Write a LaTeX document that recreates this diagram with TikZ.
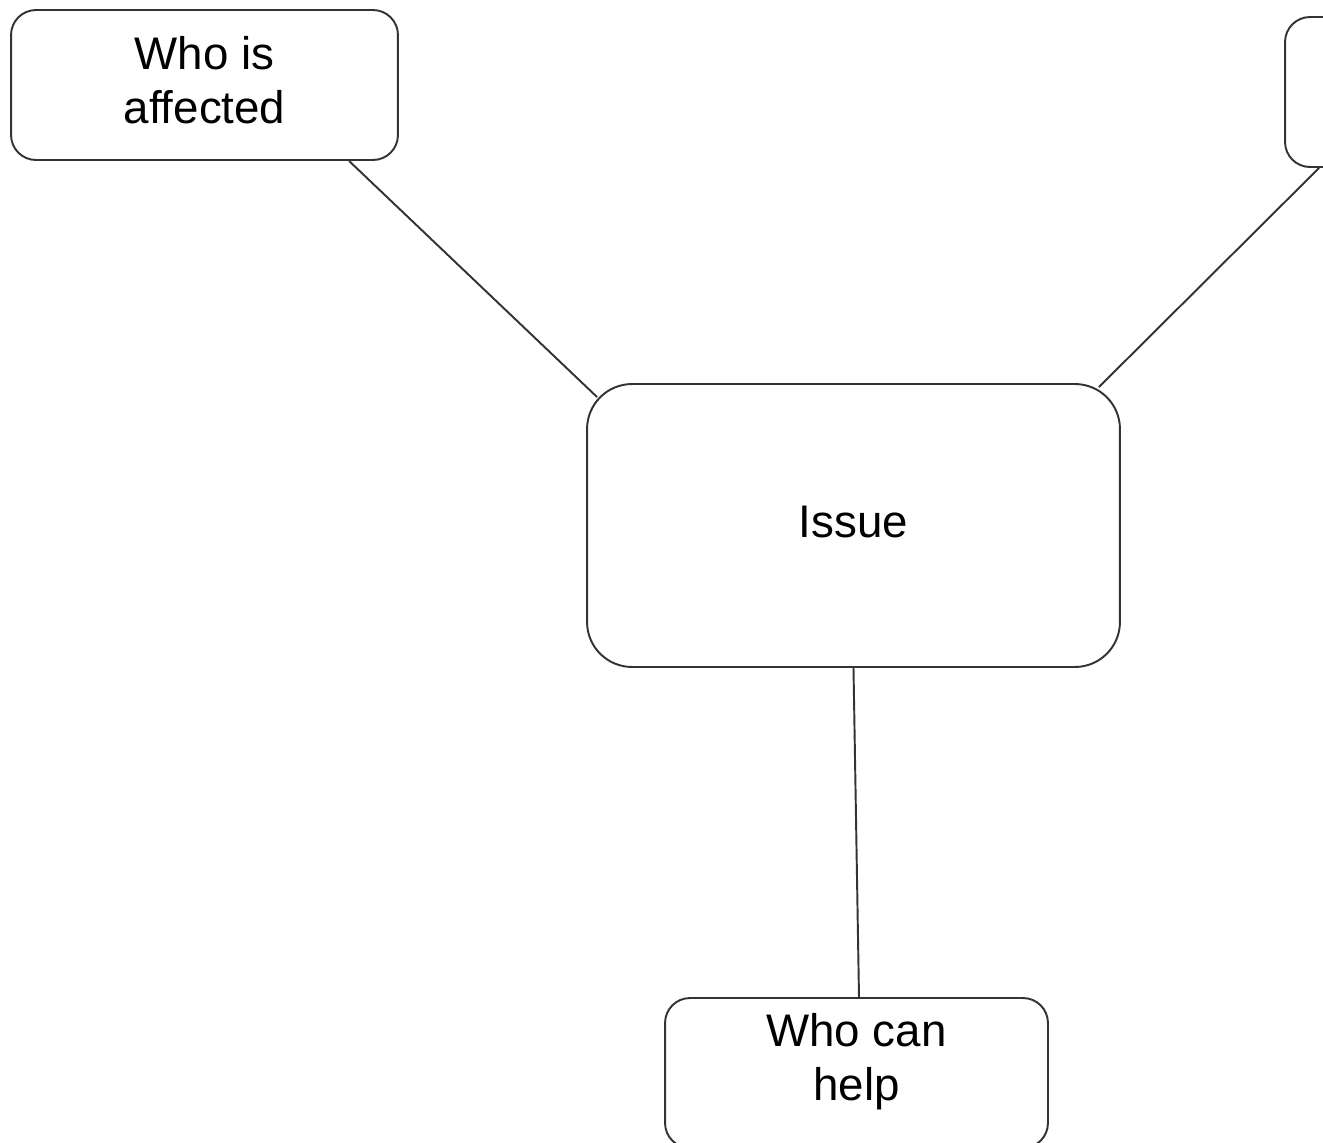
\documentclass[tikz,border=0pt]{standalone}
\usepackage{fontspec}
\setmainfont[Ligatures=NoCommon]{Liberation Sans}
\usetikzlibrary{calc}
\definecolor{ink}{HTML}{333333}
\tikzset{
  box/.style={draw=ink, line width=1.1pt, rounded corners=0.5cm, fill=white,
    minimum width=7.74cm, minimum height=3cm, inner sep=0pt},
  bigbox/.style={box, rounded corners=0.9cm, minimum width=10.66cm, minimum height=5.66cm},
  caption/.style={font=\fontsize{26}{31}\selectfont, align=center, inner sep=0pt, text=black},
  link/.style={draw=ink, line width=1.1pt}
}
\begin{document}
\begin{tikzpicture}[x=0.02cm, y=-0.02cm]
  \useasboundingbox (0,0) rectangle (1323,1143);
  \clip (0,0) rectangle (1323,1143);
  % central topic and the three surrounding boxes
  \node[bigbox] (issue) at (853.5,525.5) {};
  \node[caption] (issuetext) at ($(issue.center)+(0,-3)$) {Issue};
  \node[box] (who) at (204.5,85) {};
  \node[caption] (whotext) at ($(who.center)+(0,-5)$) {Who is\\affected};
  \node[box] (other) at (1478.5,92) {};
  \node[box, minimum width=7.66cm] (help) at (856.5,1073) {};
  \node[caption, anchor=north] (helptext) at ($(help.north)+(0,16)$) {Who can\\help};
  % links from the issue to each box
  \draw[link] ($(who.south west)+(339,0)$) -- ($(issue.north west)+(11,14)$);
  \draw[link] ($(issue.north east)+(-22,4)$) -- ($(other.south west)+(35,0)$);
  \draw[link] (issue.south) -- ($(help.north)+(2.5,0)$);
\end{tikzpicture}
\end{document}
